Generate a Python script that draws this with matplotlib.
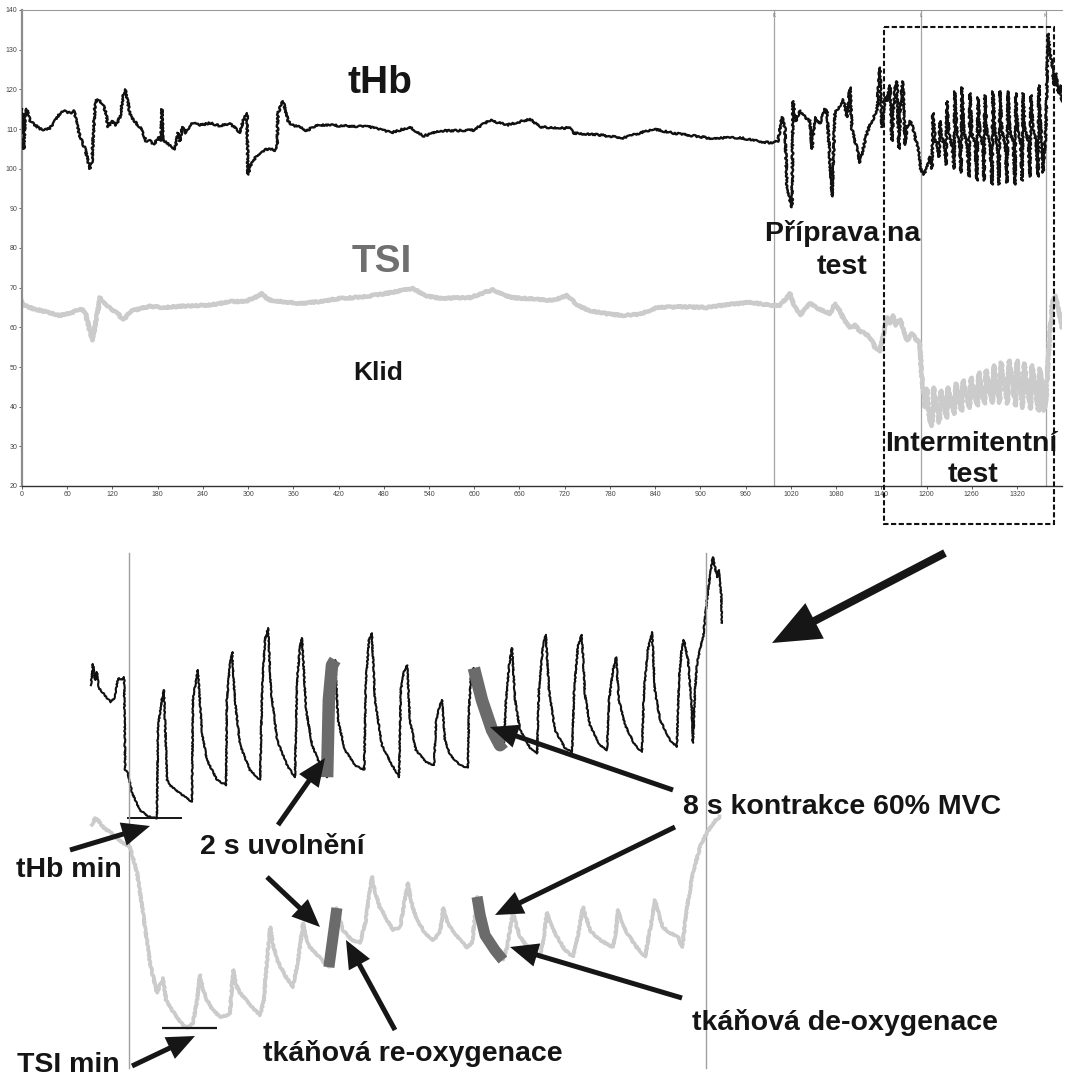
import numpy as np
import matplotlib.pyplot as plt

plt.rcParams['font.family'] = ['Liberation Sans', 'DejaVu Sans']

""" ------------- DATA ------------- """

# event markers (s): K = start of preparation, L = start of test, K = end
mark_times = [998, 1193, 1358]
mark_names = ['K', 'L', 'K']
test_start = 1193

# whole record, tHb (t [s], value)
thb_pts = [
    (0, 115), (1.3, 112), (2.7, 105), (4, 114), (6.6, 115), (10.6, 112), (17.2, 111), (23.9, 110),
    (30.5, 109.8), (37.1, 110.2), (43.8, 112), (50.4, 114), (57, 114.5), (63.7, 114), (69, 114.6),
    (73, 111), (77, 108), (83.6, 105), (87.6, 102), (90.2, 100), (92.9, 102), (96.8, 116), (99.5, 117.5),
    (103.5, 117), (107.5, 116), (111.4, 114), (114.1, 110.5), (119.4, 112), (124.7, 111), (130, 113),
    (134, 118), (136.6, 120), (139.3, 118), (143, 114), (148.6, 112), (153.9, 111), (156.5, 110.5),
    (160.5, 109), (164.5, 107), (169.8, 107), (175, 106), (180.4, 108), (184.4, 107), (185.7, 115),
    (187, 107), (192.4, 106.5), (197.7, 105.5), (203, 105), (207, 109), (209.6, 107), (212.3, 110.5),
    (217.6, 109), (222.9, 111), (226.8, 111.5), (236.1, 111), (249.4, 111.5), (262.7, 110.8),
    (276, 111.3), (285.2, 110), (289.2, 109), (293.2, 112), (297.2, 113.5), (298.5, 114), (299.8, 98.5),
    (303.8, 101), (310.4, 103), (315.7, 104), (322.4, 104.8), (329, 105), (335.6, 104.6), (338.3, 105),
    (339.6, 114), (343.6, 116), (346.3, 117), (348.9, 115), (352.9, 112), (358.2, 111), (368.8, 110.5),
    (378.1, 109.5), (384.7, 110.5), (395.3, 111), (408.6, 111), (421.9, 110.8), (441.8, 110.7),
    (461.7, 110.5), (481.6, 109.5), (492.2, 109.2), (514.7, 110.5), (532, 108.2), (554.5, 109.5),
    (598.3, 109.7), (620.8, 112.2), (643.4, 111), (673.9, 112.5), (687.2, 110.5), (727, 110.2),
    (731, 109), (766.8, 108.5), (797.3, 107.7), (837.1, 110), (863.6, 109), (912.7, 107.7),
    (952.5, 107.8), (979, 106.8), (996.3, 106.5), (1003, 107), (1008.2, 113), (1012.2, 110),
    (1014.8, 96), (1018.8, 92), (1021.5, 90.3), (1022.8, 117), (1026.8, 112), (1032, 114.7),
    (1038.7, 113), (1045.4, 112), (1048, 105), (1052, 113), (1058.6, 111.4), (1065.3, 115), (1068, 114.7),
    (1074.5, 93), (1078.5, 114), (1085.2, 116), (1089.1, 117.5), (1094.4, 113), (1098.4, 120.5),
    (1101, 110), (1105, 107), (1109, 104), (1111.7, 101.5), (1117, 106), (1121, 109), (1125, 111),
    (1129, 112.5), (1134.2, 115), (1138.2, 125.5), (1140.9, 110.5), (1144.9, 118), (1147.5, 117),
    (1151.5, 121), (1154.1, 107), (1158.1, 120), (1160.8, 122), (1163.4, 105), (1166.1, 119),
    (1168.7, 122), (1171.4, 106), (1174, 110.5), (1178, 112), (1180.7, 111), (1184.7, 108),
    (1188.7, 105), (1192.3, 100), (1196.3, 98.5), (1200.3, 100), (1204.6, 103),
    (1207.3, 100), (1208.5, 114), (1211, 108), (1214.5, 105.5),
    (1216.6, 103), (1217.8, 112), (1220.3, 108), (1224, 105.5),
    (1225.9, 101), (1227.1, 117), (1229.6, 109), (1233.5, 106),
    (1236.5, 100), (1237.7, 119.5), (1240.2, 109), (1244, 106),
    (1245.8, 99), (1247, 120.5), (1249.5, 109.5), (1254, 106),
    (1256.4, 98), (1257.6, 119), (1260.1, 109), (1264.5, 106),
    (1267, 97), (1268.2, 118), (1270.7, 109), (1274.5, 106),
    (1276.3, 97), (1277.5, 118.5), (1280, 109), (1284.5, 106),
    (1286.9, 96), (1288.1, 119.5), (1290.6, 109.5), (1294, 106),
    (1296.2, 96), (1297.4, 119.5), (1299.9, 109.5), (1304.5, 106),
    (1306.8, 96.5), (1308, 119.5), (1310.5, 109.5), (1315, 106.5),
    (1317.4, 96), (1318.6, 119), (1321.1, 109.5), (1325, 106.5),
    (1326.8, 97), (1328, 119), (1330.5, 110), (1335, 107),
    (1337.3, 98), (1338.5, 118.5), (1341, 110), (1345.5, 107),
    (1347.9, 98), (1349.1, 121), (1351.6, 110), (1354.5, 99),
    (1358.4, 110), (1361.1, 134), (1363.7, 129), (1366.4, 127), (1369.1, 121), (1371.7, 124),
    (1374.4, 119), (1377, 121), (1379.7, 117),
]

# whole record, TSI (t [s], %)
tsi_pts = [
    (0, 66.5), (4, 65.5), (14.6, 64.7), (30.5, 64), (50.4, 63), (63.7, 63.5), (77, 64.7), (83.6, 64),
    (88.9, 60), (92.9, 56.7), (96.8, 60), (103.5, 67.5), (108.8, 66), (112.8, 65.5), (119.4, 64.3),
    (127.4, 63.5), (132.7, 62), (138, 62.5), (143.3, 64), (156.5, 64.7), (169.8, 65.3), (189.7, 65),
    (209.6, 65.3), (236.1, 65.5), (256, 65.8), (276, 66.5), (295.8, 66.5), (309.1, 67.5), (318.4, 68.5),
    (326.3, 67), (342.3, 66.5), (368.8, 66), (395.3, 66.5), (421.9, 67.3), (448.4, 67.6), (481.6, 68.5),
    (518.7, 69.8), (534.6, 68), (554.5, 67.3), (594.3, 67.5), (624.8, 69.5), (640.7, 68), (651.4, 67.5),
    (687.2, 67), (704.4, 66.8), (723, 68), (737.6, 65.5), (753.5, 64.2), (773.4, 63.5), (797.3, 63),
    (819.8, 63.3), (842.4, 65), (872.9, 65.2), (908.7, 65), (939.2, 65.8), (965.8, 66.3), (996.3, 65.5),
    (1005.6, 65.5), (1012.2, 67), (1018.8, 68.5), (1025.5, 65), (1032.1, 63), (1045.4, 66),
    (1058.6, 64.5), (1071.9, 63.5), (1078.5, 66), (1085.2, 64), (1091.8, 61.5), (1098.5, 60),
    (1105.1, 60.5), (1111.7, 59), (1118.3, 58.5), (1125, 57.5), (1131.6, 55), (1138.2, 54),
    (1143.6, 59), (1147.5, 62.5), (1151.5, 61), (1155.5, 63), (1159.5, 60.5), (1164.8, 62),
    (1168.7, 60), (1174, 56.7), (1180.7, 58.4), (1186, 57), (1191.3, 56), (1192.6, 50), (1195.3, 44),
    (1198, 40), (1200.6, 44.5), (1203.5, 37),
    (1207.5, 35.2), (1209.5, 44.8), (1217, 36), (1219, 44), (1226.5, 37.2), (1228.5, 44.8),
    (1237, 38.2), (1239, 45.8), (1246.5, 39), (1248.5, 46.6), (1257, 39.7), (1259, 47.3),
    (1267.5, 40.3), (1269.5, 48.6), (1277, 40.8), (1279, 49.1), (1287.5, 41), (1289.5, 50.4),
    (1297, 41), (1299, 51.1), (1307.5, 40.8), (1309.5, 51.6), (1318, 40.3), (1320, 51.6),
    (1327.5, 39.7), (1329.5, 50.9), (1338, 39.5), (1340, 50.4), (1348.5, 39), (1350.5, 49.6),
    (1356, 39), (1358.4, 42), (1362.4, 55), (1366.4, 66), (1370.4, 68), (1374.4, 65), (1379.7, 60),
]

# intermittent test in detail, tHb (t from test start [s], value)
det_thb_pts = [
    (-10.9, 115.1), (-10.3, 117.75), (-9.7, 115.75), (-9.2, 116.75), (-8.6, 114.75), (-7.4, 114.1),
    (-6.3, 113.5), (-5.2, 113), (-4.0, 113.6), (-3.4, 115.4), (-2.9, 116), (-2.0, 115.75),
    (-1.4, 116.1), (-1.1, 104.5), (-0.3, 104.1), (0.9, 101.6), (3.1, 99.5), (5.4, 98.75), (7.4, 98.5),
    (8.0, 98.5), (8.3, 109.9), (9.4, 113.25), (10.0, 114.5), (10.6, 107), (10.9, 103.25),
    (11.7, 102.6), (14.6, 101.6), (18.0, 100.5),
    (18.3, 113.25), (19.2, 115.75), (19.7, 117), (20.9, 109.1), (22.3, 105.75), (25.2, 103.25), (27.8, 102.6),
    (28.0, 113.25), (28.9, 117.6), (29.5, 119.25), (30.3, 113.25), (31.8, 107.6), (34.6, 104.5), (37.5, 103.25),
    (38.1, 114.5), (38.9, 120.75), (39.8, 122.25), (40.6, 114.5), (42.4, 108.25), (45.2, 105.1), (47.5, 103.6),
    (48.1, 115.75), (48.9, 119.75), (49.5, 121), (50.7, 112), (52.4, 107.6), (54.7, 105.1), (56.7, 103.6),
    (57.2, 113.25), (58.1, 117.6), (59.0, 118.25), (59.8, 110.75), (61.8, 107), (64.7, 105.1), (67.3, 104.5),
    (67.8, 115.75), (68.7, 120.75), (69.5, 121.6), (70.4, 113.25), (72.4, 107.6), (75.3, 105.1), (77.3, 103.6),
    (77.8, 114.5), (78.7, 116.75), (79.6, 117.6), (80.4, 110.75), (82.1, 107), (85.0, 105.5), (87.3, 105.1),
    (87.9, 110.75), (89.0, 112.6), (89.6, 113.25), (90.4, 108.25), (91.9, 106.4), (94.7, 105.1), (97.0, 104.75),
    (97.3, 112), (97.9, 116.4), (98.7, 117.25), (101.0, 113.25), (103.9, 109.5), (106.2, 107.6), (107.3, 108),
    (107.9, 113.25), (108.8, 117.6), (109.6, 119.75), (110.5, 113.25), (111.9, 109.5), (114.8, 107.25), (116.8, 106.6),
    (117.3, 114.5), (118.5, 120.1), (119.3, 121.4), (120.2, 114.5), (121.9, 109.5), (124.8, 107.25), (126.8, 106.75),
    (127.4, 114.5), (128.5, 120.1), (129.6, 121.4), (130.5, 113.9), (131.9, 110.1), (134.8, 107.6), (136.8, 107),
    (137.4, 113.25), (138.5, 117), (139.4, 118.6), (140.2, 113.25), (142.0, 110.1), (144.8, 107.6), (146.8, 106.75),
    (147.4, 114.5), (148.5, 119.5), (149.7, 121.75), (150.5, 114.5), (152.0, 110.75), (154.8, 108.25), (156.8, 107.4),
    (157.4, 115.75), (158.3, 120.1), (158.8, 120.75), (160.0, 118.25), (161.1, 112), (161.4, 107.9),
    (162.0, 114.5), (162.6, 117.9), (163.4, 119.5), (164.3, 121.1), (165.4, 125.75), (166.3, 128.9),
    (167.1, 131.1), (167.6, 130.1), (168.3, 128.6), (168.8, 129.5), (169.1, 127.9), (169.5, 126.5), (169.7, 122.9),
]

# intermittent test in detail, TSI (t from test start [s], %)
det_tsi_pts = [
    (-10.6, 61.4), (-9.7, 62.25), (-8.9, 62), (-7.2, 61), (-5.4, 60.5), (-3.4, 59.75), (-1.7, 59.1),
    (0.3, 58.6), (2.3, 55.4), (4.0, 50.4), (6.0, 44.1), (8.0, 40.4), (8.9, 41.4), (9.7, 42.25),
    (10.6, 39.5), (12.3, 38.25), (13.7, 37.4), (15.2, 36.5), (16.6, 36), (18.3, 36.6), (19.5, 39.5),
    (20.3, 42.6), (21.2, 40.75), (22.3, 39.5), (24.0, 38.25), (26.0, 37.4), (28.3, 37.6), (28.9, 37.9),
    (29.8, 43.25), (30.6, 41.4), (31.8, 40.4), (34.6, 38.9), (37.5, 37.6), (38.6, 39.5), (39.5, 44.5),
    (40.4, 48.6), (41.2, 46.4), (42.4, 44.5), (44.6, 42.6), (46.9, 41.1), (48.4, 44.5), (49.8, 49.1),
    (50.7, 47.25), (51.8, 46.1), (55.2, 44.5), (57.2, 43.6), (59.5, 51), (61.2, 48.25), (63.8, 47),
    (66.1, 46.6), (67.8, 49.5), (69.5, 54.9), (70.7, 52.6), (71.8, 51.1), (73.8, 49.5), (75.6, 48.25),
    (77.6, 48.6), (78.7, 51.4), (79.8, 54.1), (81.0, 51.4), (82.4, 49.5), (84.7, 47.9), (87.0, 47),
    (89.0, 47.9), (89.9, 51), (90.7, 49.75), (91.9, 48.6), (94.7, 47), (96.7, 46.1), (98.2, 46.6),
    (99.6, 52.4), (100.5, 50.1), (101.9, 47.6), (104.7, 45.75), (107.0, 44.5), (108.2, 46.1),
    (109.0, 48.25), (109.9, 50.4), (110.8, 48.9), (111.9, 47.4), (114.8, 45.75), (117.6, 44.9),
    (118.8, 47.6), (119.6, 50.4), (120.8, 48.9), (122.5, 47.4), (124.8, 45.75), (127.1, 44.9),
    (128.5, 47.6), (129.9, 51.1), (131.1, 49.5), (131.9, 48.25), (134.8, 47), (138.5, 46.1),
    (139.4, 48.25), (140.0, 50.75), (141.1, 49.25), (142.5, 47.9), (144.8, 46.4), (147.7, 44.9),
    (149.1, 48.25), (150.5, 52), (151.7, 50.1), (152.8, 48.6), (154.8, 47.9), (157.1, 47.4),
    (158.3, 46.1), (159.1, 48.9), (159.7, 51.1), (161.4, 55.4), (163.4, 58.6), (164.3, 59.5),
    (165.4, 60.4), (166.9, 61.4), (168.0, 62), (169.1, 62.4),
]

# highlighted phases of one cycle (t from test start [s])
thb_relax = (56.7, 59.0)
thb_contract = (98.7, 107.3)
tsi_reoxy = (57.2, 59.5)
tsi_deoxy = (99.6, 107.0)

x_ticks = list(range(0, 1321, 60))
y_ticks = list(range(20, 141, 10))

""" ------------- FIGURE ------------- """

W, H = 1065, 1079
fig = plt.figure(figsize=(W / 100, H / 100), dpi=100)

TXT = '#151515'
THB_C = '#111111'
TSI_C = '#cbcbcb'
BAND_C = '#6b6b6b'

# --- whole record ---
ax = fig.add_axes([22 / W, 593 / H, 1040 / W, 476 / H])
t, v = np.array(thb_pts).T
ln, = ax.plot(t, v, color=THB_C, lw=1.7, zorder=3)
ln.set_sketch_params(0.9, 3, 6)
t, v = np.array(tsi_pts).T
ln, = ax.plot(t, v, color=TSI_C, lw=3.2, zorder=2)
ln.set_sketch_params(0.7, 3, 6)

for tm, nm in zip(mark_times, mark_names):
    ax.axvline(tm, color='#a5a5a5', lw=0.9, zorder=1)
    ax.text(tm, 139.2, nm, fontsize=3.5, color='#777777', ha='center', va='top')

ax.set_xlim(0, 1379.7)
ax.set_ylim(20, 140)
ax.set_xticks(x_ticks)
ax.set_yticks(y_ticks)
ax.tick_params(labelsize=5, colors='#444444', length=2, width=0.6, pad=1.5)
ax.spines['right'].set_visible(False)
ax.spines['top'].set_color('#9a9a9a')
ax.spines['top'].set_linestyle((0, (1, 1)))
ax.spines['top'].set_linewidth(0.8)
ax.spines['left'].set_color('#8c8c8c')
ax.spines['left'].set_linewidth(1.6)
ax.spines['bottom'].set_color('#333333')
ax.spines['bottom'].set_linewidth(1.0)

# --- detail of the intermittent test (no axes) ---
t0 = -129 * 0.2862
t1 = (W - 129) * 0.2862
ax_thb = fig.add_axes([0, 0, 1, 1])
ax_thb.set_xlim(t0, t1)
ax_thb.set_ylim(98.5 - (H - 818) / 8, 98.5 + 818 / 8)
ax_thb.axis('off')

ax_tsi = fig.add_axes([0, 0, 1, 1])
ax_tsi.set_xlim(t0, t1)
ax_tsi.set_ylim(36 - (H - 1028) / 8, 36 + 1028 / 8)
ax_tsi.axis('off')

end_rel = mark_times[2] - test_start
for xv in (0, end_rel):
    ax_tsi.axvline(xv, ymin=11 / H, ymax=526 / H, color='#a0a0a0', lw=1.0, zorder=1)

dt, dv = np.array(det_tsi_pts).T
ln, = ax_tsi.plot(dt, dv, color=TSI_C, lw=2.6, zorder=2)
ln.set_sketch_params(0.6, 3, 6)
for a, b in (tsi_reoxy, tsi_deoxy):
    m = (dt >= a) & (dt <= b)
    ax_tsi.plot(dt[m], dv[m], color=BAND_C, lw=8, solid_capstyle='butt', zorder=4)
ax_tsi.hlines(dv.min(), 9.4, 25.2, color=TXT, lw=1.6, zorder=5)

ht, hv = np.array(det_thb_pts).T
ln, = ax_thb.plot(ht, hv, color=THB_C, lw=1.5, zorder=3)
ln.set_sketch_params(0.5, 3, 6)
for a, b in (thb_relax, thb_contract):
    m = (ht >= a) & (ht <= b)
    ax_thb.plot(ht[m], hv[m], color=BAND_C, lw=9, solid_capstyle='butt', zorder=4)
ax_thb.hlines(hv.min(), -0.6, 15.2, color=TXT, lw=1.4, zorder=5)

# --- labels and arrows, in figure pixels ---
ov = fig.add_axes([0, 0, 1, 1])
ov.set_xlim(0, W)
ov.set_ylim(H, 0)
ov.axis('off')

bold = dict(fontweight='bold', color=TXT, ha='center', va='baseline')
ov.text(380, 93, 'tHb', fontsize=28, **bold)
ov.text(382, 272, 'TSI', fontsize=28, **{**bold, 'color': '#707070'})
ov.text(378, 380, 'Klid', fontsize=19, **bold)
ov.text(843, 241, 'Příprava na', fontsize=20.5, **bold)
ov.text(842, 274, 'test', fontsize=20.5, **bold)
ov.text(971, 451, 'Intermitentní', fontsize=20.5, **bold)
ov.text(973, 482, 'test', fontsize=20.5, **bold)
ov.text(69, 877, 'tHb min', fontsize=20.5, **bold)
ov.text(68, 1072, 'TSI min', fontsize=20.5, **bold)
ov.text(282, 854, '2 s uvolnění', fontsize=20.5, **bold)
ov.text(842, 814, '8 s kontrakce 60% MVC', fontsize=20.5, **bold)
ov.text(413, 1061, 'tkáňová re-oxygenace', fontsize=20.5, **bold)
ov.text(845, 1030, 'tkáňová de-oxygenace', fontsize=20.5, **bold)

# dashed frame round the test section
ov.add_patch(plt.Rectangle((884, 27), 170, 497, fill=False, ec='#111111', lw=1.5,
                           ls=(0, (2.5, 1.2)), zorder=6))

arrows = [
    ((70, 850), (150, 826)),
    ((132, 1066), (195, 1036)),
    ((278, 825), (325, 758)),
    ((267, 877), (320, 927)),
    ((395, 1030), (346, 940)),
    ((673, 790), (490, 727)),
    ((675, 827), (495, 915)),
    ((682, 998), (510, 947)),
]
for (x0, y0), (x1, y1) in arrows:
    ov.arrow(x0, y0, x1 - x0, y1 - y0, width=5, head_width=24, head_length=28,
             length_includes_head=True, fc='#161616', ec='none', zorder=7)
ov.arrow(945, 553, 772 - 945, 643 - 553, width=8, head_width=40, head_length=48,
         length_includes_head=True, fc='#161616', ec='none', zorder=7)

fig.savefig('out.png', dpi=100)
